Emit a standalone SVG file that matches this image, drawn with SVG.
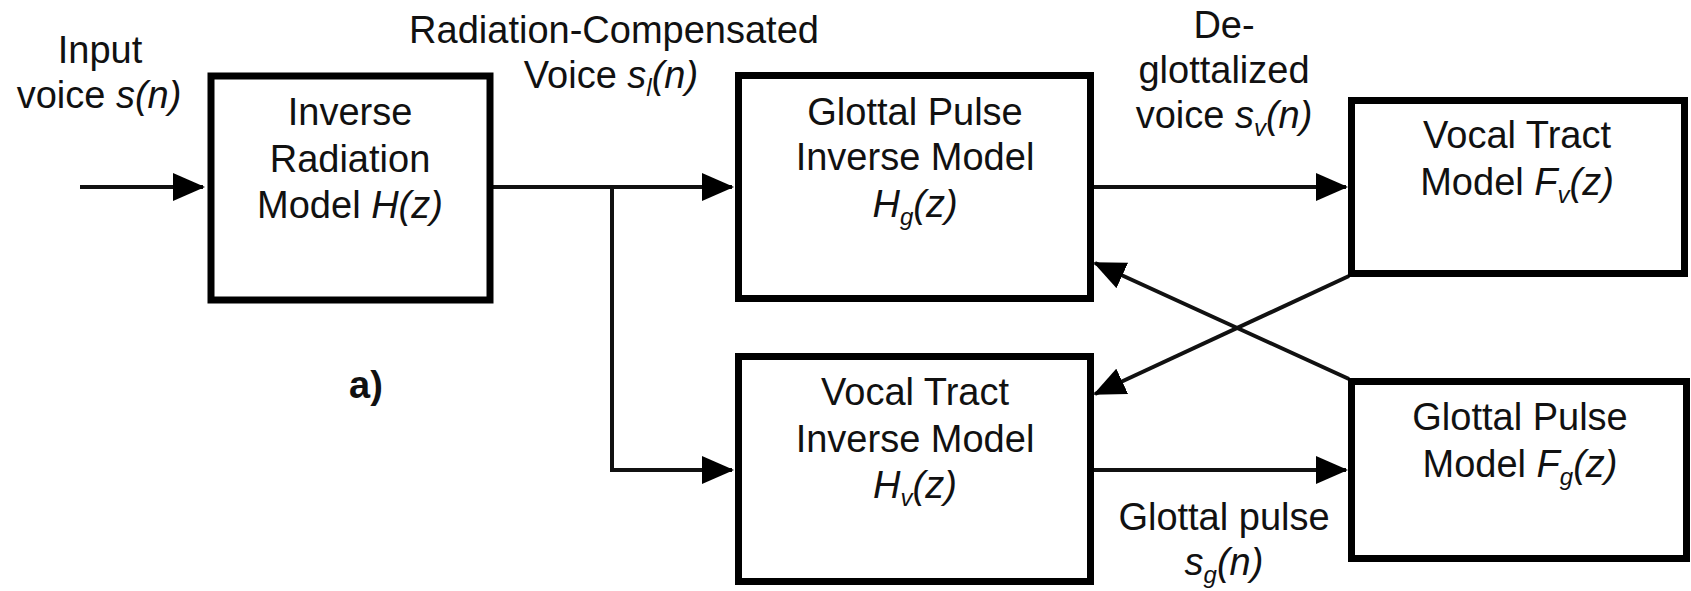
<svg xmlns="http://www.w3.org/2000/svg" width="1691" height="591" viewBox="0 0 1691 591">
<defs>
<style>
text{font-family:"Liberation Sans",Arial,sans-serif;font-size:38px;fill:#111;text-anchor:middle}
.i{font-style:italic}
.sub{font-style:italic;font-size:24px}
.box{fill:#fff;stroke:#000;stroke-width:7}
.c{fill:none;stroke:#111;stroke-width:4}
.b{font-weight:bold}
</style>
<marker id="ah" markerWidth="8" markerHeight="7" refX="7.5" refY="3.5" orient="auto" markerUnits="strokeWidth" viewBox="0 0 8 7">
<path d="M0,0 L8,3.5 L0,7 Z" fill="#000"/>
</marker>
</defs>
<rect width="1691" height="591" fill="#fff"/>
<g id="connectors">
<line class="c" x1="80" y1="187" x2="203" y2="187" marker-end="url(#ah)"/>
<line class="c" x1="493" y1="187" x2="732" y2="187" marker-end="url(#ah)"/>
<polyline class="c" points="612,187 612,470 732,470" marker-end="url(#ah)"/>
<line class="c" x1="1094" y1="187" x2="1346" y2="187" marker-end="url(#ah)"/>
<line class="c" x1="1094" y1="470" x2="1346" y2="470" marker-end="url(#ah)"/>
<line class="c" x1="1349" y1="379" x2="1095" y2="263" marker-end="url(#ah)"/>
<line class="c" x1="1349" y1="276" x2="1095" y2="394" marker-end="url(#ah)"/>
</g>
<g id="labels">
<text x="100" y="63">Input</text>
<text x="99" y="108">voice <tspan class="i">s(n)</tspan></text>
<text x="614" y="43">Radiation-Compensated</text>
<text x="611" y="88">Voice <tspan class="i">s</tspan><tspan class="sub" dy="8">l</tspan><tspan class="i" dy="-8">(n)</tspan></text>
<text x="1224" y="38">De-</text>
<text x="1224" y="83">glottalized</text>
<text x="1224" y="128">voice <tspan class="i">s</tspan><tspan class="sub" dy="8">v</tspan><tspan class="i" dy="-8">(n)</tspan></text>
<text x="1224" y="530">Glottal pulse</text>
<text x="1224" y="575"><tspan class="i">s</tspan><tspan class="sub" dy="8">g</tspan><tspan class="i" dy="-8">(n)</tspan></text>
<text class="b" x="366" y="398">a)</text>
</g>
<g id="node-inverse-radiation">
<rect class="box" x="211" y="76" width="279" height="224"/>
<text x="350" y="125">Inverse</text>
<text x="350" y="172">Radiation</text>
<text x="350" y="218">Model <tspan class="i">H(z)</tspan></text>
</g>
<g id="node-glottal-inverse">
<rect class="box" x="738.5" y="75.5" width="352" height="223"/>
<text x="915" y="125">Glottal Pulse</text>
<text x="915" y="170">Inverse Model</text>
<text x="915" y="217"><tspan class="i">H</tspan><tspan class="sub" dy="8">g</tspan><tspan class="i" dy="-8">(z)</tspan></text>
</g>
<g id="node-vocal-tract-model">
<rect class="box" x="1351.5" y="100.5" width="333" height="173"/>
<text x="1517" y="148">Vocal Tract</text>
<text x="1517" y="195">Model <tspan class="i">F</tspan><tspan class="sub" dy="8">v</tspan><tspan class="i" dy="-8">(z)</tspan></text>
</g>
<g id="node-vocal-tract-inverse">
<rect class="box" x="738.5" y="356.5" width="352" height="225"/>
<text x="915" y="405">Vocal Tract</text>
<text x="915" y="452">Inverse Model</text>
<text x="915" y="498"><tspan class="i">H</tspan><tspan class="sub" dy="8">v</tspan><tspan class="i" dy="-8">(z)</tspan></text>
</g>
<g id="node-glottal-pulse-model">
<rect class="box" x="1351.5" y="381.5" width="335" height="177"/>
<text x="1520" y="430">Glottal Pulse</text>
<text x="1520" y="477">Model <tspan class="i">F</tspan><tspan class="sub" dy="8">g</tspan><tspan class="i" dy="-8">(z)</tspan></text>
</g>
</svg>
